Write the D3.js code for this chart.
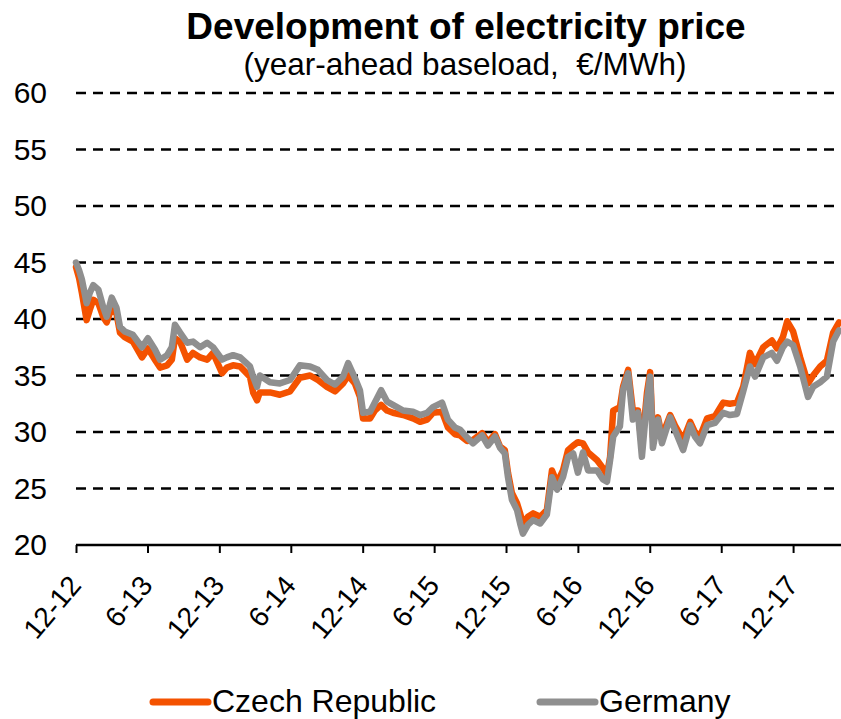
<!DOCTYPE html>
<html>
<head>
<meta charset="utf-8">
<script src="https://cdn.jsdelivr.net/npm/d3@7"></script>
<style>
  body { margin: 0; background: #fff; }
  svg { display: block; font-family: "Liberation Sans", Arial, sans-serif; }
</style>
</head>
<body>
<svg width="841" height="719"></svg>
<script>
// values (EUR/MWh)
var dates = [
  '2012-12-01', '2012-12-09', '2012-12-16', '2012-12-28', '2013-01-05', '2013-01-14', '2013-01-27',
  '2013-02-08', '2013-02-17', '2013-03-02', '2013-03-14', '2013-03-23', '2013-04-04', '2013-04-25',
  '2013-05-18', '2013-06-02', '2013-06-20', '2013-07-03', '2013-07-21', '2013-08-02', '2013-08-10',
  '2013-08-23', '2013-09-10', '2013-09-25', '2013-10-13', '2013-10-31', '2013-11-15', '2013-12-08',
  '2013-12-20', '2014-01-05', '2014-01-23', '2014-02-17', '2014-02-25', '2014-03-07', '2014-03-14',
  '2014-04-09', '2014-05-04', '2014-05-30', '2014-06-24', '2014-07-20', '2014-08-09', '2014-09-01',
  '2014-09-22', '2014-10-12', '2014-10-25', '2014-11-11', '2014-11-24', '2014-12-02', '2014-12-20',
  '2015-01-01', '2015-01-17', '2015-02-01', '2015-02-16', '2015-03-14', '2015-04-08', '2015-04-26',
  '2015-05-14', '2015-05-29', '2015-06-21', '2015-07-06', '2015-07-24', '2015-08-06', '2015-08-24',
  '2015-09-08', '2015-10-01', '2015-10-16', '2015-11-03', '2015-11-16', '2015-11-28', '2015-12-06',
  '2015-12-16', '2015-12-29', '2016-01-06', '2016-01-13', '2016-01-26', '2016-02-08', '2016-02-26',
  '2016-03-14', '2016-03-27', '2016-04-09', '2016-04-24', '2016-05-07', '2016-05-20', '2016-06-01',
  '2016-06-14', '2016-06-27', '2016-07-20', '2016-08-04', '2016-08-14', '2016-08-22', '2016-08-30',
  '2016-09-16', '2016-09-24', '2016-10-07', '2016-10-19', '2016-11-01', '2016-11-11', '2016-11-24',
  '2016-12-02', '2016-12-09', '2016-12-22', '2017-01-01', '2017-01-22', '2017-02-03', '2017-02-24',
  '2017-03-14', '2017-03-26', '2017-04-08', '2017-04-26', '2017-05-16', '2017-06-06', '2017-06-23',
  '2017-07-11', '2017-07-27', '2017-08-13', '2017-08-26', '2017-09-16', '2017-10-08', '2017-10-21',
  '2017-11-05', '2017-11-16', '2017-12-01', '2017-12-19', '2018-01-08', '2018-01-21', '2018-02-08',
  '2018-02-25', '2018-03-13', '2018-03-28'
]
var czech = [
  44.6, 43.6, 42.3, 39.9, 40.8, 41.7, 41.4,
  40.2, 39.7, 41.0, 40.5, 38.8, 38.4, 38.0,
  36.6, 37.4, 36.4, 35.7, 35.9, 36.4, 38.3,
  38.0, 36.4, 37.0, 36.6, 36.4, 37.0, 35.2,
  35.7, 35.9, 35.8, 34.9, 33.5, 32.8, 33.5,
  33.5, 33.3, 33.6, 34.8, 35.0, 34.6, 34.0,
  33.6, 34.3, 35.0, 34.3, 33.1, 31.2, 31.2,
  31.9, 32.4, 31.9, 31.7, 31.5, 31.2, 30.9,
  31.1, 31.7, 31.8, 30.4, 29.8, 29.7, 29.2,
  29.3, 29.9, 29.1, 29.8, 28.7, 28.4, 26.4,
  24.6, 23.7, 22.8, 21.9, 22.5, 22.8, 22.5,
  23.1, 26.6, 25.5, 26.6, 28.4, 28.8, 29.1,
  29.0, 28.2, 27.5, 26.8, 26.2, 27.8, 31.9,
  32.2, 34.0, 35.5, 31.9, 31.9, 28.7, 33.5,
  35.3, 29.6, 31.3, 29.6, 31.5, 30.6, 29.3,
  30.9, 30.0, 29.6, 31.2, 31.4, 32.6, 32.5,
  32.6, 34.0, 37.0, 36.0, 37.5, 38.1, 37.4,
  38.4, 39.8, 38.9, 36.6, 34.3, 35.0, 35.8,
  36.3, 38.8, 39.7
]
var germany = [
  45.0, 44.3, 43.5, 41.4, 42.3, 43.0, 42.6,
  41.1, 40.2, 41.9, 41.0, 39.3, 38.9, 38.6,
  37.5, 38.3, 37.3, 36.4, 36.8, 37.5, 39.5,
  38.8, 37.9, 38.0, 37.5, 37.9, 37.5, 36.4,
  36.6, 36.8, 36.6, 35.8, 34.9, 34.0, 35.0,
  34.4, 34.3, 34.6, 35.9, 35.8, 35.5, 34.6,
  34.2, 34.9, 36.1, 34.8, 33.7, 31.7, 31.8,
  32.6, 33.7, 32.7, 32.4, 31.9, 31.8, 31.5,
  31.7, 32.2, 32.6, 31.1, 30.4, 30.2, 29.5,
  29.0, 29.7, 28.8, 29.6, 28.6, 28.1, 26.0,
  24.0, 23.1, 21.9, 21.0, 21.8, 22.2, 21.9,
  22.7, 26.0, 24.9, 26.0, 27.8, 28.1, 26.4,
  28.2, 26.6, 26.6, 25.8, 25.6, 27.5, 29.6,
  30.5, 33.7, 35.2, 31.1, 31.7, 27.8, 32.8,
  34.9, 28.6, 31.1, 29.0, 31.3, 30.2, 28.4,
  30.6, 29.6, 29.0, 30.6, 30.8, 31.7, 31.5,
  31.6, 33.6, 35.8, 34.9, 36.6, 37.0, 36.3,
  37.5, 38.0, 37.7, 35.8, 33.1, 34.0, 34.4,
  34.9, 38.0, 39.0
]
var yTicks = [20, 25, 30, 35, 40, 45, 50, 55, 60]
var xTickLabels = ['12-12', '6-13', '12-13', '6-14', '12-14', '6-15', '12-15', '6-16', '12-16', '6-17', '12-17']
var seriesNames = ['Czech Republic', 'Germany']
var seriesColors = ['#f45200', '#8f8f8f']

var parse = d3.timeParse('%Y-%m-%d')

function tickDate (label) {
  var p = label.split('-')
  return new Date(2000 + (+p[1]), +p[0] - 1, 1)
}

var svg = d3.select('svg')
var plotLeft = 76
var plotRight = 841
var plotTop = 93
var plotBottom = 545

var x = d3.scaleTime()
  .domain([parse('2012-12-01'), parse('2018-04-02')])
  .range([plotLeft, plotRight])
var y = d3.scaleLinear().domain([20, 60]).range([plotBottom, plotTop])

// titles
svg.append('text')
  .attr('x', 466).attr('y', 39)
  .attr('text-anchor', 'middle')
  .style('font-size', '37px').style('font-weight', 'bold')
  .text('Development of electricity price')
svg.append('text')
  .attr('x', 465).attr('y', 75)
  .attr('text-anchor', 'middle')
  .style('font-size', '31.5px')
  .style('white-space', 'pre')
  .text('(year-ahead baseload,  €/MWh)')

// gridlines
var gridG = svg.append('g').attr('class', 'grid')
gridG.selectAll('line')
  .data(yTicks.filter(function (d) { return d > 20 }))
  .enter().append('line')
  .attr('x1', plotLeft).attr('x2', plotRight)
  .attr('y1', function (d) { return y(d) })
  .attr('y2', function (d) { return y(d) })
  .attr('stroke', '#000')
  .attr('stroke-width', 2.5)
  .attr('stroke-dasharray', '10,7')

// y axis labels
var yAxis = d3.axisLeft(y).tickValues(yTicks).tickSize(0).tickPadding(29)
var yG = svg.append('g').attr('transform', 'translate(' + plotLeft + ',0)').call(yAxis)
yG.select('.domain').remove()
yG.selectAll('text')
  .style('font-size', '30px')
  .style('font-family', '"Liberation Sans", Arial, sans-serif')
  .attr('fill', '#000')

// x axis
var xAxis = d3.axisBottom(x)
  .tickValues(xTickLabels.map(tickDate))
  .tickSize(8)
  .tickFormat(function (d, i) { return xTickLabels[i] })
var xG = svg.append('g').attr('transform', 'translate(0,' + plotBottom + ')').call(xAxis)
xG.select('.domain')
  .attr('d', 'M' + plotLeft + ',0H' + plotRight)
  .attr('stroke', '#000').attr('stroke-width', 2.5)
xG.selectAll('.tick line').attr('stroke', '#000').attr('stroke-width', 2)
xG.selectAll('.tick text')
  .style('font-size', '28px')
  .style('font-family', '"Liberation Sans", Arial, sans-serif')
  .attr('fill', '#000')
  .attr('text-anchor', 'end')
  .attr('dy', 0)
  .attr('x', 0).attr('y', 0)
  .attr('transform', 'translate(6,41) rotate(-50)')

// lines
var line = d3.line()
  .x(function (d) { return x(d.date) })
  .y(function (d) { return y(d.value) })

function series (values) {
  return values.map(function (v, i) { return { date: parse(dates[i]), value: v } })
}

var linesG = svg.append('g').attr('class', 'lines')
;[czech, germany].forEach(function (values, i) {
  linesG.append('path')
    .attr('d', line(series(values)))
    .attr('fill', 'none')
    .attr('stroke', seriesColors[i])
    .attr('stroke-width', 6.5)
    .attr('stroke-linejoin', 'round')
    .attr('stroke-linecap', 'round')
})

// legend
var legendX = [153, 540]
seriesNames.forEach(function (name, i) {
  var g = svg.append('g').attr('transform', 'translate(' + legendX[i] + ',702)')
  g.append('line')
    .attr('x1', 0).attr('x2', 55)
    .attr('stroke', seriesColors[i]).attr('stroke-width', 7)
    .attr('stroke-linecap', 'round')
  g.append('text')
    .attr('x', 59).attr('y', 10)
    .style('font-size', '32px')
    .text(name)
})
</script>
</body>
</html>
